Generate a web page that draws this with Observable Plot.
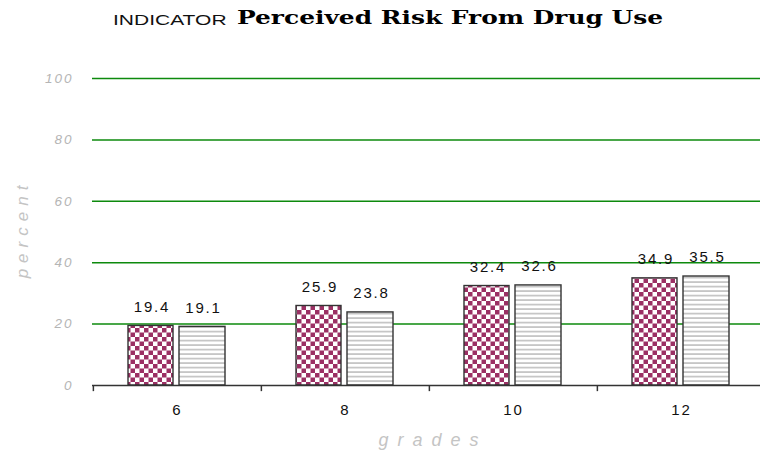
<!DOCTYPE html>
<html><head><meta charset="utf-8">
<script src="https://cdn.jsdelivr.net/npm/d3@7"></script>
<script src="https://cdn.jsdelivr.net/npm/@observablehq/plot@0.6"></script>
<style>
html,body{margin:0;padding:0;background:#fff;overflow:hidden;width:760px;height:458px}
#title{height:40px;position:relative;white-space:nowrap}
#ind{position:absolute;left:113px;top:11px;font:15px "Liberation Sans",Arial,sans-serif;color:#111;transform:scaleX(1.4);transform-origin:left center}
#main{position:absolute;left:237px;top:7px;font:bold 18.5px "DejaVu Serif",serif;color:#000;transform:scaleX(1.345);transform-origin:left center}
</style></head><body>
<div id="title"><span id="ind">INDICATOR</span><span id="main">Perceived Risk From Drug Use</span></div>
<div id="chart"></div>
<script>
const grades = ["6", "8", "10", "12"];
const series1 = [19.4, 25.9, 32.4, 34.9];
const series2 = [19.1, 23.8, 32.6, 35.5];
const yTicks = [0, 20, 40, 60, 80, 100];
const gridTicks = [20, 40, 60, 80, 100];

const rows1 = grades.map((g, i) => ({grade: g, value: series1[i]}));
const rows2 = grades.map((g, i) => ({grade: g, value: series2[i]}));

const W = 765, ML = 92, MR = 0;
const halfBand = (W - ML - MR) / grades.length / 2;
const sans = "Liberation Sans, Arial, sans-serif";

const plot = Plot.plot({
  width: W,
  height: 418,
  marginLeft: ML,
  marginRight: MR,
  marginTop: 38,
  marginBottom: 73,
  style: "max-width:none;overflow:visible;background:#fff;",
  x: {domain: grades, padding: 0, label: null},
  y: {domain: [0, 100], label: null},
  marks: [
    Plot.ruleY(gridTicks, {stroke: "#0d8a0d", strokeWidth: 1.5}),
    Plot.barY(rows1, {x: "grade", y: "value", fill: "url(#checker)", stroke: "#333", strokeWidth: 1.4, insetLeft: 35, insetRight: 88}),
    Plot.barY(rows2, {x: "grade", y: "value", fill: "url(#stripes)", stroke: "#333", strokeWidth: 1.4, insetLeft: 86, insetRight: 36}),
    Plot.text(rows1, {x: "grade", y: "value", text: d => d.value.toFixed(1), dx: -25.5, dy: -19, fontSize: 15, fill: "#111", fontFamily: sans}),
    Plot.text(rows2, {x: "grade", y: "value", text: d => d.value.toFixed(1), dx: 26, dy: -19, fontSize: 15, fill: "#111", fontFamily: sans}),
    Plot.ruleY([0], {stroke: "#333", strokeWidth: 1.5}),
    Plot.ruleX(grades, {x: d => d, dx: -halfBand, y1: 0, y2: -2, stroke: "#333", strokeWidth: 1.5}),
    Plot.axisX({tickSize: 0, tickPadding: 19, fontSize: 15, fill: "#111", fontFamily: sans, label: null}),
    Plot.axisY(yTicks, {tickSize: 0, tickPadding: 19, fontSize: 13.5, fontStyle: "italic", fill: "#b5b5b5", fontFamily: sans, label: null}),
    Plot.text(["percent"], {frameAnchor: "left", textAnchor: "middle", rotate: -90, dx: -70, dy: -3, fontSize: 17, fontStyle: "italic", fill: "#c4c4c4", fontFamily: sans}),
    Plot.text(["grades"], {frameAnchor: "bottom", dx: 4, dy: 60, fontSize: 18, fontStyle: "italic", fill: "#c4c4c4", fontFamily: sans})
  ]
});

const svg = d3.select(plot);
const defs = svg.insert("defs", ":first-child");
const c = 4.5;
const ck = defs.append("pattern").attr("id", "checker").attr("patternUnits", "userSpaceOnUse").attr("width", 2 * c).attr("height", 2 * c);
ck.append("rect").attr("width", 2 * c).attr("height", 2 * c).attr("fill", "#fff");
ck.append("rect").attr("width", c).attr("height", c).attr("fill", "#9b3064");
ck.append("rect").attr("x", c).attr("y", c).attr("width", c).attr("height", c).attr("fill", "#9b3064");
const st = defs.append("pattern").attr("id", "stripes").attr("patternUnits", "userSpaceOnUse").attr("width", 8).attr("height", 4.5);
st.append("rect").attr("width", 8).attr("height", 4.5).attr("fill", "#fff");
st.append("rect").attr("y", 3).attr("width", 8).attr("height", 1.2).attr("fill", "#aaaaaa");

// text spacing to mimic the wide lettering of the original
svg.selectAll("text").each(function() {
  const t = this.textContent;
  const s = d3.select(this);
  if (t === "percent") s.style("letter-spacing", "6px");
  else if (t === "grades") s.style("letter-spacing", "9px");
  else if (/^\d+\.\d$/.test(t)) s.style("letter-spacing", "1.8px");
  else if (/^\d+$/.test(t)) s.style("letter-spacing", "2px");
});

document.getElementById("chart").appendChild(plot);
</script>
</body></html>
